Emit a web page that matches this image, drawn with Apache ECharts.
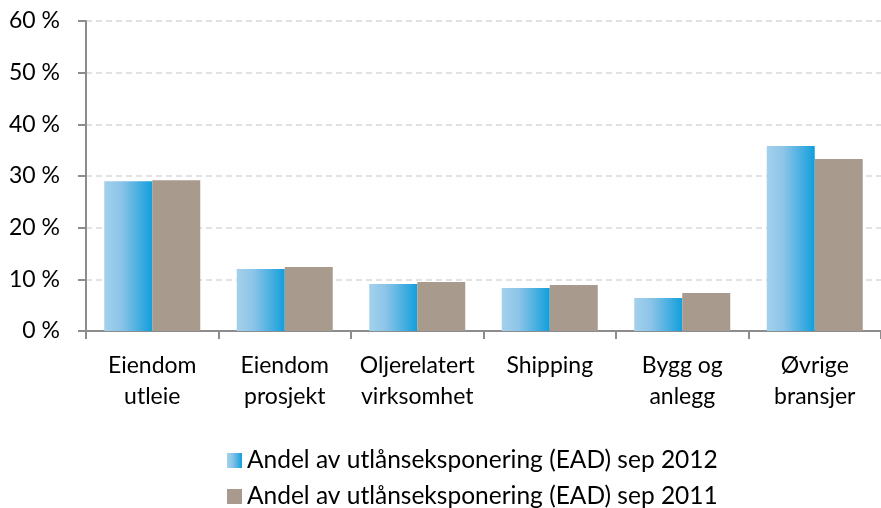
<!DOCTYPE html>
<html>
<head>
<meta charset="utf-8">
<script src="https://cdn.jsdelivr.net/npm/echarts@6/dist/echarts.min.js"></script>
<style>html,body{margin:0;padding:0;background:#fff}#c{width:881px;height:508px}</style>
</head>
<body>
<div id="c"></div>
<script>
const categories = ['Eiendom\nutleie', 'Eiendom\nprosjekt', 'Oljerelatert\nvirksomhet', 'Shipping', 'Bygg og\nanlegg', 'Øvrige\nbransjer'];
const seriesNames = ['Andel av utlånseksponering (EAD) sep 2012', 'Andel av utlånseksponering (EAD) sep 2011'];
const values2012 = [29.0, 12.0, 9.1, 8.3, 6.4, 35.8];
const values2011 = [29.2, 12.4, 9.5, 8.9, 7.35, 33.3];
const yTicks = [0, 10, 20, 30, 40, 50, 60];

const FONT = 'Lato';
const chart = echarts.init(document.getElementById('c'), null, {renderer: 'canvas'});
const blueGrad = new echarts.graphic.LinearGradient(0, 0, 1, 0, [
  {offset: 0, color: '#a3d1ec'},
  {offset: 0.35, color: '#8cc4e8'},
  {offset: 1, color: '#129fdc'}
]);
const legendBase = {
  orient: 'horizontal',
  left: 227,
  itemWidth: 15,
  itemHeight: 15,
  icon: 'rect',
  padding: 0,
  textStyle: {fontFamily: FONT, fontSize: 24.5, color: '#000'}
};
chart.setOption({
  animation: false,
  textStyle: {fontFamily: FONT},
  grid: {left: 86, right: -8, top: 21, bottom: 177},
  legend: [
    Object.assign({}, legendBase, {top: 448, data: [seriesNames[0]]}),
    Object.assign({}, legendBase, {top: 484, data: [seriesNames[1]]})
  ],
  xAxis: {
    type: 'category',
    data: categories,
    axisLine: {lineStyle: {color: '#8c8c8c', width: 2}},
    axisTick: {show: true, length: 8, lineStyle: {color: '#8c8c8c', width: 2}},
    axisLabel: {color: '#000', fontFamily: FONT, fontSize: 23, lineHeight: 31, margin: 19, interval: 0}
  },
  yAxis: {
    type: 'value',
    min: yTicks[0],
    max: yTicks[yTicks.length - 1],
    interval: 10,
    axisLine: {show: true, lineStyle: {color: '#8c8c8c', width: 2}},
    axisTick: {show: true, length: 8, lineStyle: {color: '#8c8c8c', width: 2}},
    splitLine: {lineStyle: {color: '#d9d9d9', type: [6, 4], width: 1.5}},
    axisLabel: {color: '#000', fontFamily: FONT, fontSize: 23, margin: 26, formatter: v => v + ' %'}
  },
  series: [
    {name: seriesNames[0], type: 'bar', data: values2012, barWidth: 48, barGap: '0%',
     itemStyle: {color: blueGrad}},
    {name: seriesNames[1], type: 'bar', data: values2011, barWidth: 48, barGap: '0%',
     itemStyle: {color: '#a89b8d'}}
  ]
});
</script>
</body>
</html>
